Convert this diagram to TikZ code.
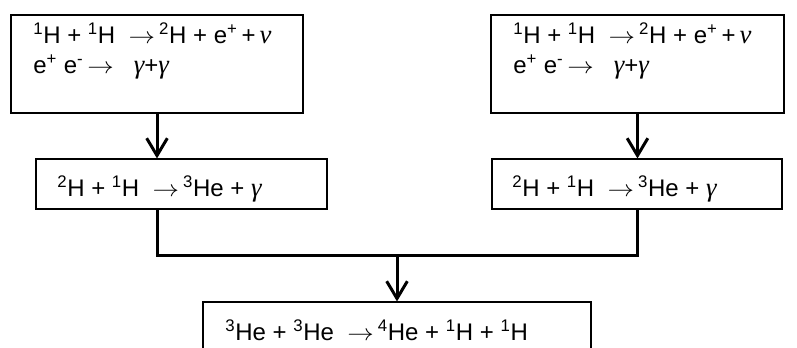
\documentclass[tikz,border=0pt]{standalone}
\usepackage{fontspec}
\usepackage{graphicx}
\setmainfont{Liberation Sans}
\newfontfamily\grk{Liberation Serif}
\usetikzlibrary{arrows.meta}
\newcommand\gm{{\grk\itshape\fontsize{20}{20}\selectfont γ}}
\newcommand\nuu{{\grk\itshape\fontsize{20}{20}\selectfont ν}}
\newcommand\sps[1]{\textsuperscript{#1}}
\newcommand\rarr{\scalebox{1.15}[1]{$\rightarrow$}}
\newcommand\ar{\;\rarr\,}
\tikzset{
  box/.style={draw=black, line width=0.8pt, inner sep=0pt},
  txt/.style={anchor=base west, inner sep=0pt, font=\fontsize{18}{21}\selectfont},
  conn/.style={line width=2.25pt, line cap=butt, line join=miter},
  arr/.style={conn, -{Straight Barb[length=13pt,width=15.5pt,line width=2.25pt]}}
}
\begin{document}
\begin{tikzpicture}[x=0.75pt,y=-0.75pt]
\useasboundingbox (0,0) rectangle (797,347);
\clip (0,0) rectangle (797,347);
% boxes
\node[box, minimum width=219pt, minimum height=73.5pt] (tl) at (157,64) {};
\node[box, minimum width=219.75pt, minimum height=73.5pt] (tr) at (637.5,64) {};
\node[box, minimum width=218.25pt, minimum height=37.5pt] (ml) at (181.5,184) {};
\node[box, minimum width=217.5pt, minimum height=37.5pt] (mr) at (637,184) {};
\node[box, minimum width=291pt, minimum height=52.5pt] (bt) at (397,337) {};
% texts
\node[txt] (tl1) at (33,43) {\sps{1}H + \sps{1}H \ar\sps{2}H + e\sps{+}\,+\,\nuu};
\node[txt] (tl2) at (33,73) {e\sps{+} e\sps{-}\,\rarr\;\; \gm+\gm};
\node[txt] (tr1) at (513,43) {\sps{1}H + \sps{1}H \ar\sps{2}H + e\sps{+}\,+\,\nuu};
\node[txt] (tr2) at (513,73) {e\sps{+} e\sps{-}\,\rarr\;\; \gm+\gm};
\node[txt] (ml1) at (57,196) {\sps{2}H + \sps{1}H \ar\sps{3}He + \gm};
\node[txt] (mr1) at (512,196) {\sps{2}H + \sps{1}H \ar\sps{3}He + \gm};
\node[txt] (bt1) at (225,340) {\sps{3}He + \sps{3}He \ar\sps{4}He + \sps{1}H + \sps{1}H};
% connectors
\coordinate (j) at (397,255);
\draw[arr] (tl.south) -- (tl.south |- ml.north);
\draw[arr] (tr.south) -- (tr.south |- mr.north);
\draw[conn] (tl.south |- ml.south) |- (j) -| (tr.south |- mr.south);
\draw[arr] (j) -- (bt.north);
\end{tikzpicture}
\end{document}
